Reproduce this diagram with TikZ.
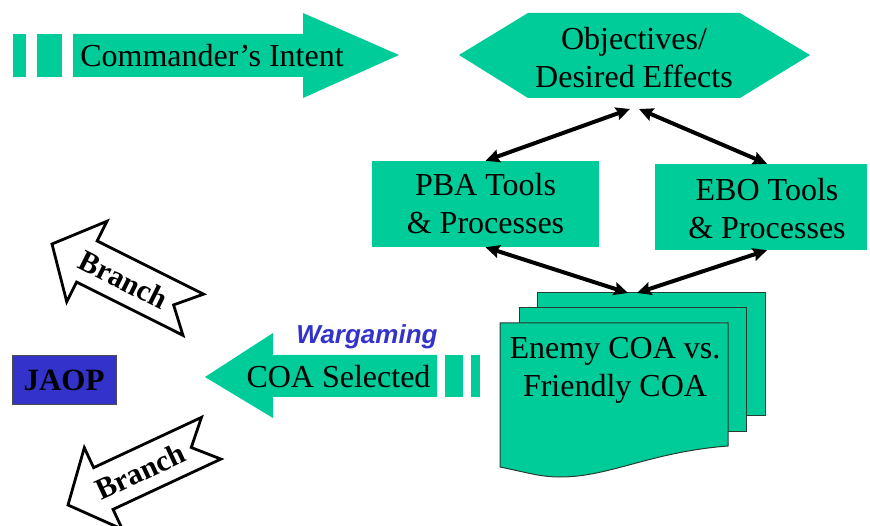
\documentclass[tikz,border=0pt]{standalone}
\usepackage{fontspec}
\setmainfont{Liberation Serif}
\newfontfamily\wgfont{Liberation Sans}
\usetikzlibrary{arrows.meta}
\definecolor{ebgreen}{RGB}{0,204,153}
\definecolor{ebblue}{RGB}{51,51,204}
\definecolor{edgecol}{RGB}{40,60,50}
\begin{document}
\begin{tikzpicture}[x=1pt,y=-1pt,
  bigtext/.style={font=\fontsize{32}{38}\selectfont, inner sep=0pt, align=center},
  page/.style={fill=ebgreen, draw=edgecol, line width=1pt},
  link/.style={{Stealth[length=14pt,width=13pt,inset=2pt]}-{Stealth[length=14pt,width=13pt,inset=2pt]}, line width=4pt},
  brancharrow/.style={draw=black, fill=white, line width=2.8pt, line join=miter},
  branchtext/.style={font=\bfseries\fontsize{30}{32}\selectfont, inner sep=0pt}
]
\useasboundingbox (0,0) rectangle (870,526);

% Commander's intent
\fill[ebgreen] (13,34) rectangle (26,77);
\fill[ebgreen] (37,34) rectangle (62,77);
\fill[ebgreen] (73,34) -- (303,34) -- (303,13) -- (399,55) -- (303,98) -- (303,77) -- (73,77) -- cycle;
\node[bigtext, anchor=base] (ci) at (212,67) {Commander’s Intent};

% Objectives
\fill[ebgreen] (459,55) -- (528,13) -- (740,13) -- (810,55) -- (740,98) -- (528,98) -- cycle;
\node[bigtext] (obj) at (634,58) {Objectives/\\Desired Effects};
\coordinate (objL) at (630,109);
\coordinate (objR) at (639,109);

% tool boxes
\node[bigtext, fill=ebgreen, minimum width=227pt, minimum height=86pt] (pba) at (485.5,204) {PBA Tools\\\& Processes};
\node[fill=ebgreen, minimum width=212pt, minimum height=86pt, inner sep=0pt] (ebo) at (761,207) {};
\node[bigtext] (ebot) at (767,209) {EBO Tools\\\& Processes};

% stack of pages
\path[page] (537,293) rectangle (765,415);
\path[page] (519,308) rectangle (746,431);
\path[page] (500,323) -- (728,323) -- (728,446) .. controls (650,452) and (610,477) .. (560,477) .. controls (540,477) and (525,472) .. (500,467) -- cycle;
\node[bigtext] (coa) at (615,370) {Enemy COA vs.\\Friendly COA};
\coordinate (stL) at (628,293);
\coordinate (stR) at (637,293);

% links
\draw[link] (pba.north) -- (objL);
\draw[link] ([xshift=6pt]ebo.north) -- (objR);
\draw[link] (pba.south) -- (stL);
\draw[link] ([xshift=6pt]ebo.south) -- (stR);

% COA selected
\fill[ebgreen] (205,377) -- (273,333) -- (273,355) -- (437,355) -- (437,397) -- (273,397) -- (273,418) -- cycle;
\fill[ebgreen] (445,355) rectangle (463,397);
\fill[ebgreen] (471,355) rectangle (480,397);
\node[bigtext, anchor=base] (sel) at (338.5,388) {COA Selected};
\node[font=\wgfont\bfseries\itshape\fontsize{26}{30}\selectfont, text=ebblue, inner sep=0pt, anchor=base] (wg) at (367,344) {Wargaming};

% JAOP
\node[fill=ebblue, draw=black!70, line width=1pt, minimum width=104pt, minimum height=48pt, font=\bfseries\fontsize{31}{34}\selectfont, inner sep=0pt] (jaop) at (64,380) {JAOP};

% Branch arrows
\begin{scope}[shift={(52,244)}, rotate=-26.6]
\path[brancharrow] (0,0) -- (39,-45) -- (39,-23) -- (158,-23) -- (136,0) -- (158,23) -- (39,23) -- (39,45) -- cycle;
\node[branchtext, rotate=-26.6] (br1) at (80,0) {Branch};
\end{scope}
\begin{scope}[shift={(68,505)}, rotate=25]
\path[brancharrow] (0,0) -- (39,-45) -- (39,-23) -- (158,-23) -- (136,0) -- (158,23) -- (39,23) -- (39,45) -- cycle;
\node[branchtext, rotate=25] (br2) at (80,0) {Branch};
\end{scope}
\end{tikzpicture}
\end{document}
